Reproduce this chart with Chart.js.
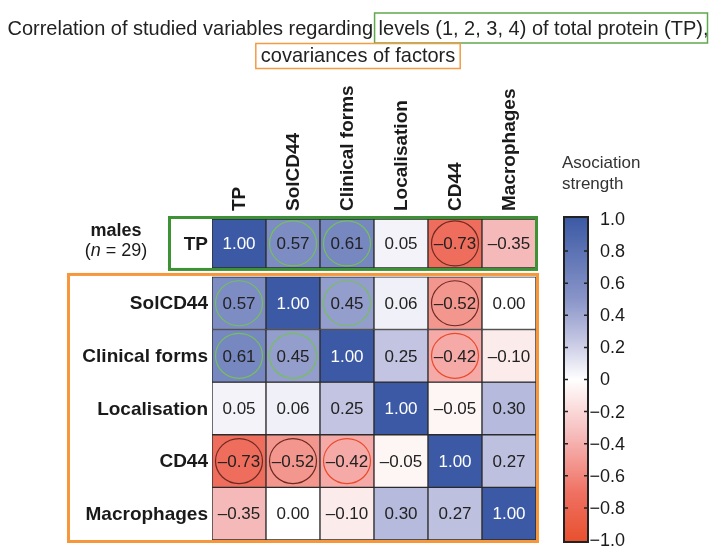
<!DOCTYPE html>
<html>
<head>
<meta charset="utf-8">
<script src="https://cdn.jsdelivr.net/npm/chart.js@4.4.1/dist/chart.umd.min.js"></script>
<style>
  html, body { margin: 0; padding: 0; background: #fff; }
  #wrap { width: 717px; height: 560px; position: relative; }
</style>
</head>
<body>
<div id="wrap"><canvas id="heat"></canvas></div>
<script>
// variables (same order for rows and columns)
const variables = ['TP', 'SolCD44', 'Clinical forms', 'Localisation', 'CD44', 'Macrophages'];

// correlation rows
const tpRow           = [1.00, 0.57, 0.61, 0.05, -0.73, -0.35];
const solcd44Row      = [0.57, 1.00, 0.45, 0.06, -0.52, 0.00];
const clinicalRow     = [0.61, 0.45, 1.00, 0.25, -0.42, -0.10];
const localisationRow = [0.05, 0.06, 0.25, 1.00, -0.05, 0.30];
const cd44Row         = [-0.73, -0.52, -0.42, -0.05, 1.00, 0.27];
const macrophagesRow  = [-0.35, 0.00, -0.10, 0.30, 0.27, 1.00];
const rows = [tpRow, solcd44Row, clinicalRow, localisationRow, cd44Row, macrophagesRow];

// circled (significant) cells: g = green, d = dark red, r = red
const tpSig           = ['', 'g', 'g', '', 'd', ''];
const solcd44Sig      = ['g', '', 'g', '', 'd', ''];
const clinicalSig     = ['g', 'g', '', '', 'r', ''];
const localisationSig = ['', '', '', '', '', ''];
const cd44Sig         = ['d', 'd', 'r', '', '', ''];
const macrophagesSig  = ['', '', '', '', '', ''];
const sigRows = [tpSig, solcd44Sig, clinicalSig, localisationSig, cd44Sig, macrophagesSig];

// colour bar ticks
const barTicks  = [1.0, 0.8, 0.6, 0.4, 0.2, 0, -0.2, -0.4, -0.6, -0.8, -1.0];
const barLabels = ['1.0', '0.8', '0.6', '0.4', '0.2', '0', '−0.2', '−0.4', '−0.6', '−0.8', '−1.0'];

const FONT = '"Liberation Sans", Arial, sans-serif';
const GAP = 0.171;      // space between TP row and the rest
const TP_H = 0.93;      // TP row is a bit shorter

// colour map stops: value -> rgb
const stops = [
  [1.0, [59, 89, 164]],
  [0.5, [136, 148, 200]],
  [0.25, [194, 196, 225]],
  [0.0, [255, 255, 255]],
  [-0.35, [246, 185, 185]],
  [-0.7, [239, 112, 97]],
  [-1.0, [232, 80, 46]]
];

function colorFor(v) {
  for (let i = 0; i < stops.length - 1; i++) {
    const [v1, c1] = stops[i];
    const [v2, c2] = stops[i + 1];
    if (v <= v1 && v >= v2) {
      const t = (v1 - v) / (v1 - v2);
      const c = c1.map((x, k) => Math.round(x + (c2[k] - x) * t));
      return `rgb(${c[0]},${c[1]},${c[2]})`;
    }
  }
  return '#fff';
}

function rowSpan(i) {
  if (i === 0) return [5 + GAP, 5 + GAP + TP_H];
  return [5 - i, 6 - i];
}

function fmt(v) {
  const s = Math.abs(v).toFixed(2);
  return v < 0 ? '–' + s : s;
}

const datasets = rows.map((vals, i) => ({
  label: variables[i],
  data: vals.map(() => rowSpan(i)),
  backgroundColor: vals.map(colorFor),
  borderColor: '#2b2b2b',
  borderWidth: 1,
  borderSkipped: false,
  grouped: false,
  barPercentage: 1,
  categoryPercentage: 1
}));

const decor = {
  id: 'decor',
  beforeDraw(chart) {
    const ctx = chart.ctx;
    ctx.save();
    ctx.fillStyle = '#fff';
    ctx.fillRect(0, 0, chart.width, chart.height);

    // title
    ctx.font = '21px ' + FONT;
    ctx.fillStyle = '#222';
    ctx.textBaseline = 'middle';
    const partA = 'Correlation of studied variables regarding ';
    const partB = 'levels (1, 2, 3, 4) of total protein (TP),';
    const line2 = 'covariances of factors';
    const wA = ctx.measureText(partA).width;
    const wB = ctx.measureText(partB).width;
    const sx = 701 / (wA + wB);
    const x0 = 358 - (wA + wB) * sx / 2;
    ctx.save();
    ctx.translate(x0, 0);
    ctx.scale(sx, 1);
    ctx.textAlign = 'left';
    ctx.fillText(partA, 0, 29);
    ctx.fillText(partB, wA, 29);
    ctx.restore();
    ctx.lineWidth = 1.5;
    ctx.strokeStyle = '#5ea84e';
    ctx.strokeRect(x0 + wA * sx - 4, 13, wB * sx + 3, 30);

    const w2 = ctx.measureText(line2).width * sx;
    ctx.save();
    ctx.translate(358 - w2 / 2, 0);
    ctx.scale(sx, 1);
    ctx.fillText(line2, 0, 56);
    ctx.restore();
    ctx.strokeStyle = '#f39b45';
    ctx.strokeRect(358 - w2 / 2 - 5, 43.5, w2 + 10, 25);
    ctx.restore();
  },
  afterDatasetsDraw(chart) {
    const ctx = chart.ctx;
    const xs = chart.scales.x;
    const ys = chart.scales.y;
    ctx.save();

    // cell values and circles
    rows.forEach((vals, i) => {
      const meta = chart.getDatasetMeta(i);
      vals.forEach((v, j) => {
        const p = meta.data[j].getCenterPoint();
        const sig = sigRows[i][j];
        if (sig) {
          ctx.beginPath();
          ctx.ellipse(p.x, p.y, 23.5, 22.5, 0, 0, Math.PI * 2);
          ctx.lineWidth = 1.2;
          ctx.strokeStyle = sig === 'g' ? '#74c05a' : sig === 'd' ? '#6e2a22' : '#ea4a2c';
          ctx.stroke();
        }
        ctx.font = '17px ' + FONT;
        ctx.textAlign = 'center';
        ctx.textBaseline = 'middle';
        ctx.fillStyle = v > 0.8 ? '#fff' : '#222';
        ctx.fillText(fmt(v), p.x, p.y + 1);
      });
    });

    // row labels
    ctx.font = 'bold 19px ' + FONT;
    ctx.textAlign = 'right';
    ctx.fillStyle = '#1a1a1a';
    variables.forEach((name, i) => {
      const [a, b] = rowSpan(i);
      const y = ys.getPixelForValue((a + b) / 2);
      ctx.fillText(name, 208, y + 1);
    });

    // column labels (vertical)
    ctx.font = 'bold 19px ' + FONT;
    ctx.textAlign = 'left';
    variables.forEach((name, j) => {
      const x = xs.getPixelForValue(j);
      ctx.save();
      ctx.translate(x + 1, 211);
      ctx.rotate(-Math.PI / 2);
      ctx.fillText(name, 0, 0);
      ctx.restore();
    });

    // group label
    ctx.textAlign = 'center';
    ctx.font = 'bold 18px ' + FONT;
    ctx.fillText('males', 116, 231);
    ctx.font = '18px ' + FONT;
    const pA = '(', pN = 'n', pC = ' = 29)';
    const wa = ctx.measureText(pA).width;
    const wc = ctx.measureText(pC).width;
    ctx.font = 'italic 18px ' + FONT;
    const wn = ctx.measureText(pN).width;
    let lx = 116 - (wa + wn + wc) / 2;
    ctx.textAlign = 'left';
    ctx.font = '18px ' + FONT;
    ctx.fillText(pA, lx, 251);
    ctx.font = 'italic 18px ' + FONT;
    ctx.fillText(pN, lx + wa, 251);
    ctx.font = '18px ' + FONT;
    ctx.fillText(pC, lx + wa + wn, 251);

    // group boxes
    const top0 = ys.getPixelForValue(5 + GAP + TP_H);
    const bot0 = ys.getPixelForValue(5 + GAP);
    const top1 = ys.getPixelForValue(5);
    const bot1 = ys.getPixelForValue(0);
    const right = chart.chartArea.right;
    ctx.lineWidth = 3;
    ctx.strokeStyle = '#3d9235';
    ctx.strokeRect(169.5, top0 - 1.5, right - 169, bot0 - top0 + 3);
    ctx.strokeStyle = '#f5973a';
    ctx.strokeRect(68.5, top1 - 2.5, right - 67, bot1 - top1 + 4);

    // colour bar
    const cb = chart.scales.cb;
    const bx = 564, bw = 24;
    const bt = cb.getPixelForValue(1) - 2;
    const bb = cb.getPixelForValue(-1) + 2;
    const grad = ctx.createLinearGradient(0, bt, 0, bb);
    stops.forEach(([v]) => grad.addColorStop((1 - v) / 2, colorFor(v)));
    ctx.fillStyle = grad;
    ctx.fillRect(bx, bt, bw, bb - bt);
    ctx.lineWidth = 2;
    ctx.strokeStyle = '#222';
    ctx.strokeRect(bx, bt, bw, bb - bt);
    ctx.lineWidth = 1.5;
    ctx.font = '18px ' + FONT;
    ctx.fillStyle = '#1a1a1a';
    ctx.textAlign = 'left';
    ctx.textBaseline = 'middle';
    const minusW = ctx.measureText('−').width;
    barTicks.forEach((t, k) => {
      const y = cb.getPixelForValue(t);
      if (t !== 1 && t !== -1) {
        ctx.beginPath();
        ctx.moveTo(bx, y); ctx.lineTo(bx + 4, y);
        ctx.moveTo(bx + bw - 4, y); ctx.lineTo(bx + bw, y);
        ctx.stroke();
      }
      const lab = barLabels[k];
      const lx2 = lab.startsWith('−') ? 600 - minusW : 600;
      ctx.fillText(lab, lx2, y + 1);
    });
    ctx.font = '17px ' + FONT;
    ctx.fillStyle = '#333';
    ctx.fillText('Asociation', 562, 163);
    ctx.fillText('strength', 562, 184);

    ctx.restore();
  }
};

new Chart(document.getElementById('heat'), {
  type: 'bar',
  data: { labels: variables, datasets: datasets },
  options: {
    responsive: true,
    maintainAspectRatio: false,
    animation: false,
    devicePixelRatio: 1,
    layout: { padding: { left: 212, right: 181, top: 219, bottom: 20 } },
    scales: {
      x: { type: 'category', display: false },
      y: { type: 'linear', min: 0, max: 5 + GAP + TP_H, display: false },
      cb: { type: 'linear', position: 'right', min: -1, max: 1, display: false }
    },
    plugins: { legend: { display: false }, tooltip: { enabled: false } }
  },
  plugins: [decor]
});
</script>
</body>
</html>
